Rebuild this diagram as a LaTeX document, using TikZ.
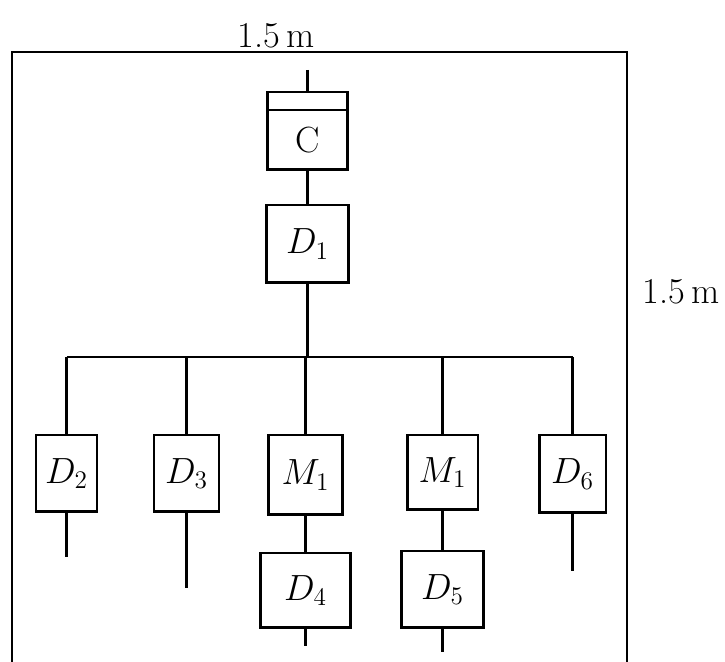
\documentclass[tikz,border=0pt]{standalone}
\usepackage{tikz}
\usetikzlibrary{positioning, calc}

\tikzset{
  wire/.style = {line width=1.7pt, color=black},
}

\begin{document}
\begin{tikzpicture}[
  x=0.02cm, y=-0.02cm,
  unit/.style={rectangle, draw, line width=1.7pt, inner sep=0pt,
               minimum width=1.4cm, minimum height=1.54cm, font=\huge},
  dim/.style={font=\huge},
]
  \useasboundingbox (0,0) rectangle (725,662);

  % Room outline (bottom runs off the sheet)
  \draw[wire] (12,662) -- (12,52) -- (627,52) -- (627,662);
  \node[dim] (wtop)   at (276,36)  {1.5\,m};
  \node[dim] (wright) at (681,292) {1.5\,m};

  % Top of the tree
  \node[unit, minimum width=1.62cm, minimum height=0.36cm] (ctop) at (307.5,101) {};
  \node[unit, minimum width=1.62cm, minimum height=1.2cm] (c) at (307.5,140) {C};
  \node[unit, minimum width=1.64cm, minimum height=1.56cm] (d1) at (307.5,244) {$D_1$};
  \coordinate (feed) at (307.5,70);
  \coordinate (bus)  at (307.5,357);

  % Second row
  \node[unit, minimum width=1.22cm] (d2)  at (66.5,473.5) {$D_2$};
  \node[unit, minimum width=1.30cm] (d3)  at (186.5,473.5) {$D_3$};
  \node[unit, minimum width=1.50cm, minimum height=1.6cm] (m1a) at (305.5,475) {$M_1$};
  \node[unit, minimum width=1.42cm, minimum height=1.5cm] (m1b) at (442.5,472.5) {$M_1$};
  \node[unit, minimum width=1.34cm, minimum height=1.56cm] (d6)  at (572.5,474) {$D_6$};

  % Third row
  \node[unit, minimum width=1.80cm, minimum height=1.5cm] (d4) at (305.5,590.5) {$D_4$};
  \node[unit, minimum width=1.66cm] (d5) at (442.5,589.5) {$D_5$};

  % Free ends
  \coordinate (e2) at (66.5,557);
  \coordinate (e3) at (186.5,588);
  \coordinate (e4) at (305.5,646);
  \coordinate (e5) at (442.5,652);
  \coordinate (e6) at (572.5,571);

  % Links
  \draw[wire] (feed) -- (ctop.north);
  \draw[wire] (c.south) -- (d1.north);
  \draw[wire] (d1.south) -- (bus);
  \draw[wire] (d2.north |- bus) -- (d6.north |- bus);
  \foreach \n in {d2, d3, m1a, m1b, d6}
    \draw[wire] (\n.north) -- (\n.north |- bus);
  \draw[wire] (m1a.south) -- (d4.north);
  \draw[wire] (m1b.south) -- (d5.north);
  \draw[wire] (d2.south) -- (e2);
  \draw[wire] (d3.south) -- (e3);
  \draw[wire] (d4.south) -- (e4);
  \draw[wire] (d5.south) -- (e5);
  \draw[wire] (d6.south) -- (e6);
\end{tikzpicture}
\end{document}
